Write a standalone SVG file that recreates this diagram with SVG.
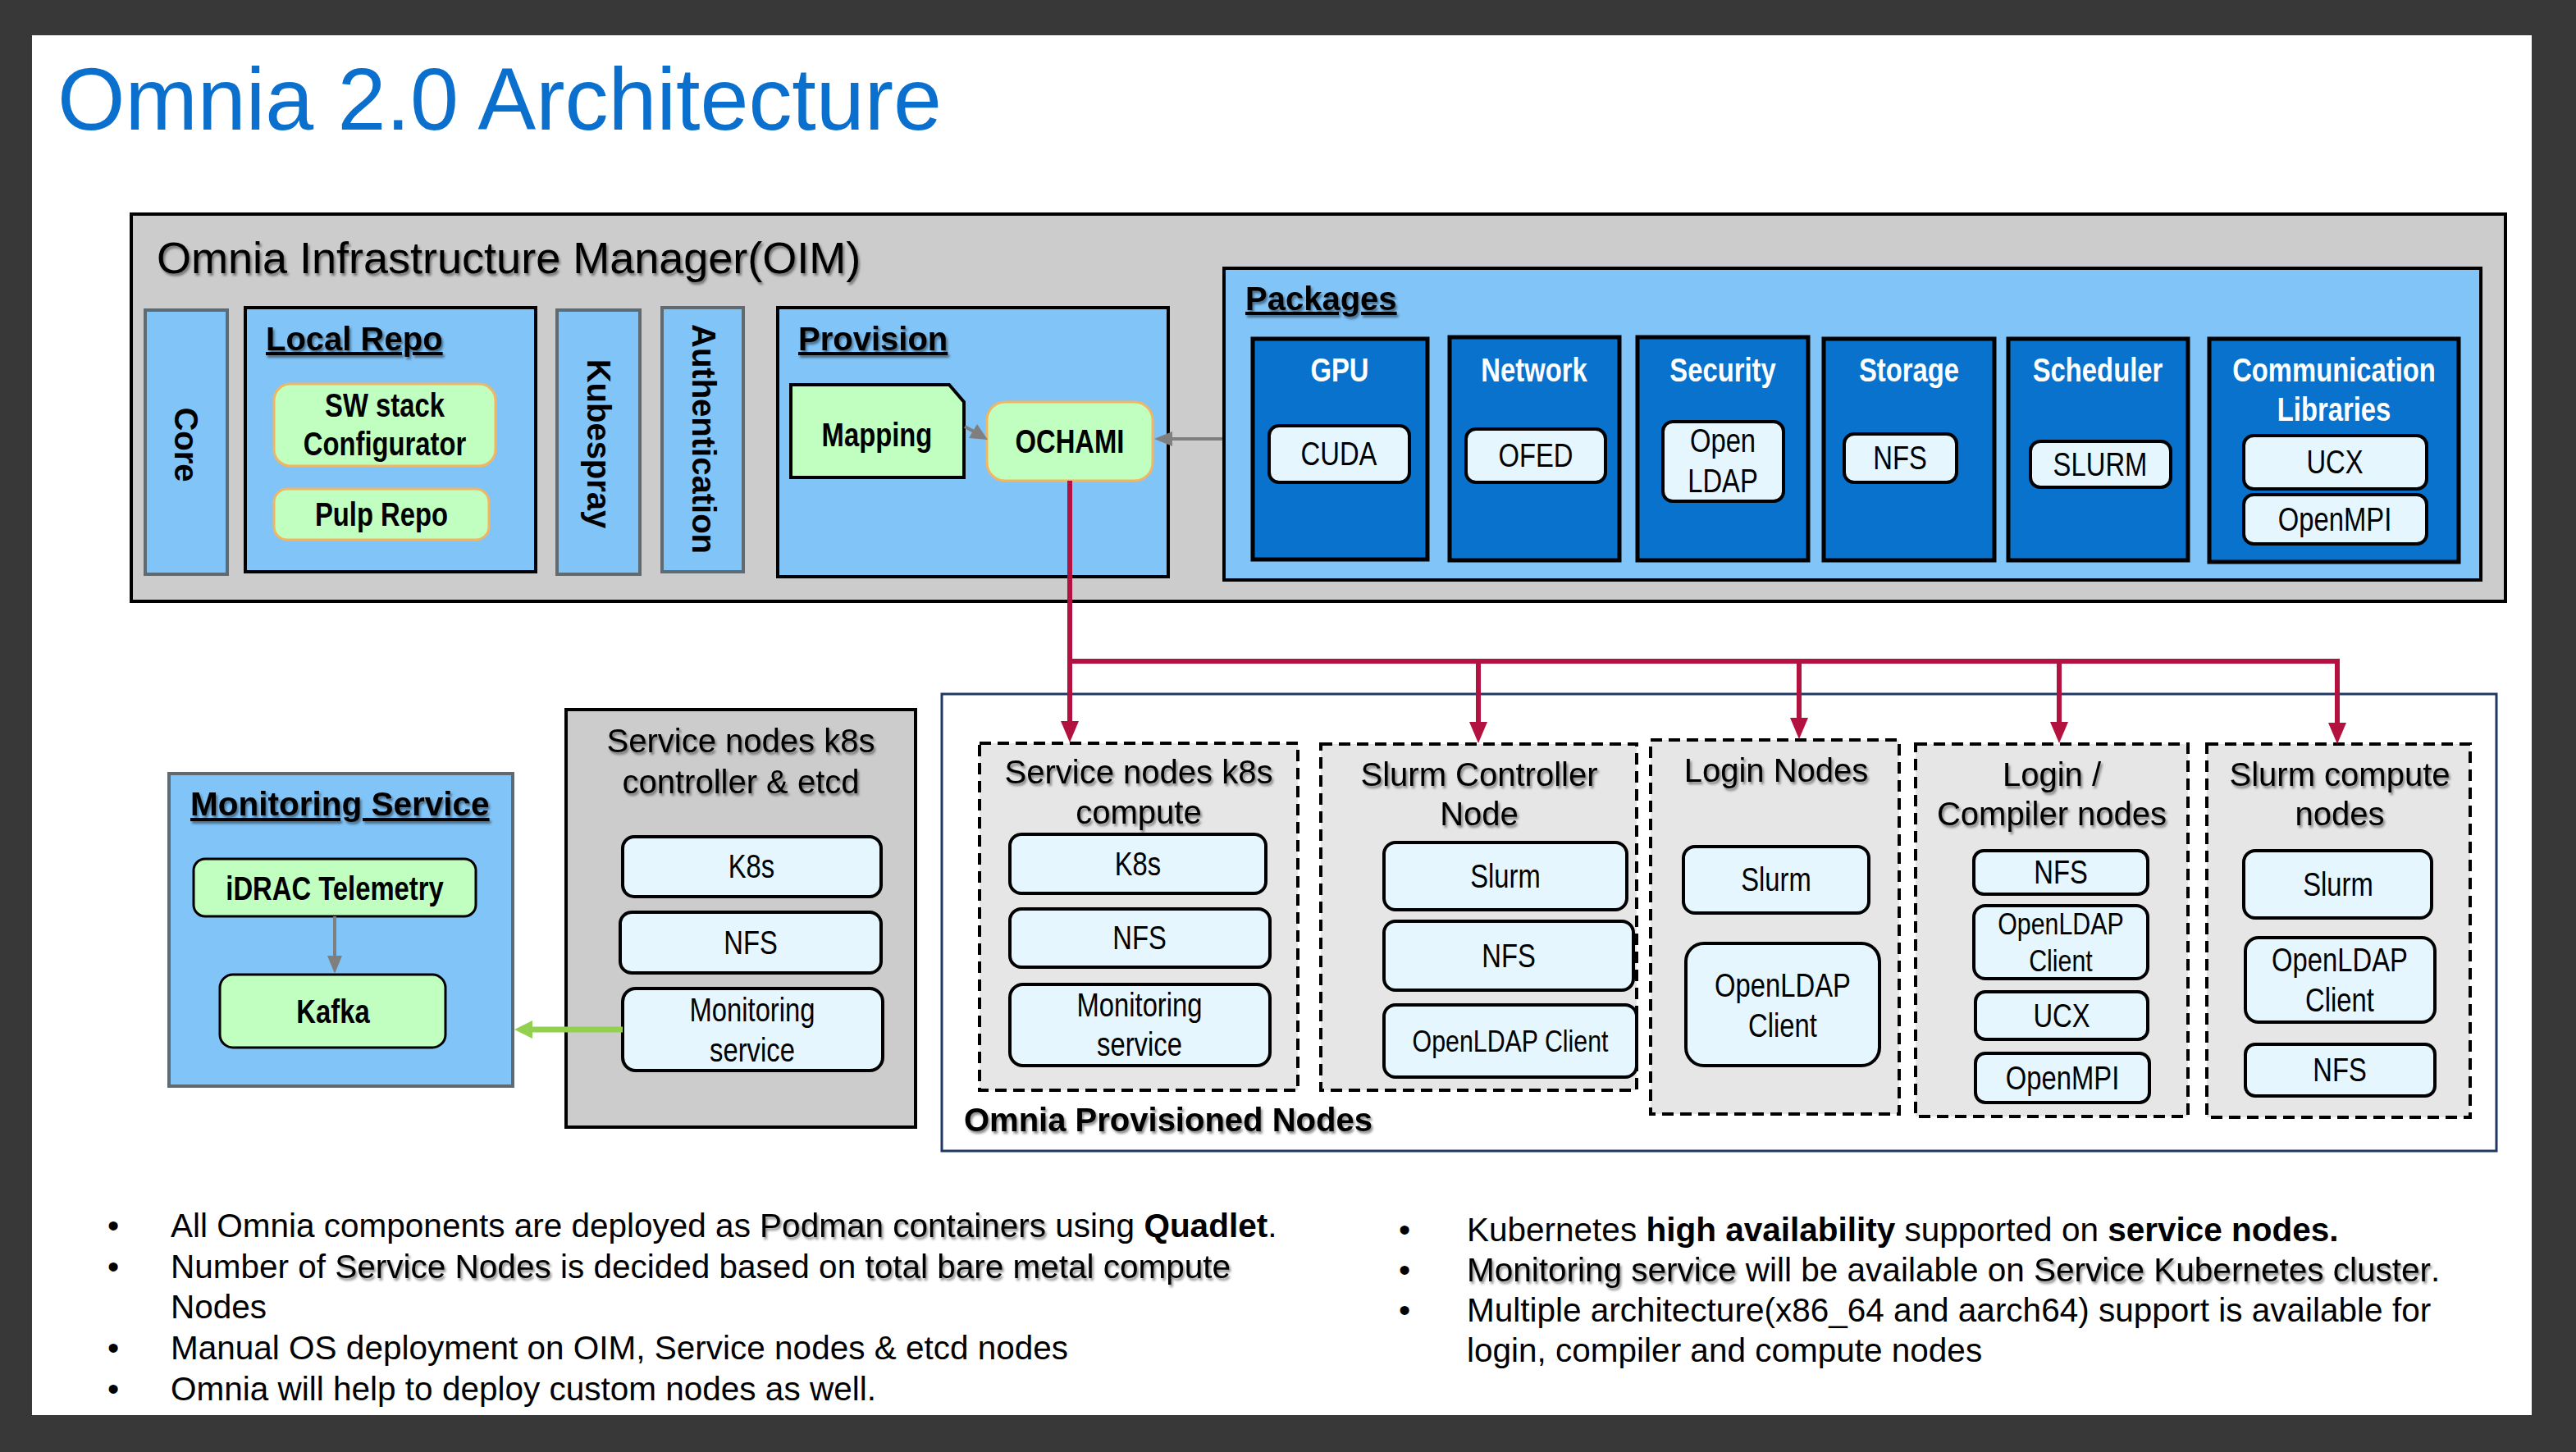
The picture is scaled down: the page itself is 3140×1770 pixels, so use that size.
<svg xmlns="http://www.w3.org/2000/svg" width="3140" height="1770" viewBox="0 0 3140 1770">
<defs>
<style>
text{font-family:"Liberation Sans",Arial,Helvetica,sans-serif;fill:#000}
.title{font-size:108px;fill:#0B70CD}
.oim{font-size:54px}
.sec{font-size:40px;font-weight:bold;text-decoration:underline}
.vt{font-size:40px;font-weight:bold;text-anchor:middle}
.nt{font-size:40px;text-anchor:middle}
.l{font-size:40px;text-anchor:middle}
.l37{font-size:37px;text-anchor:middle}
.lb{font-size:40px;font-weight:bold;text-anchor:middle}
.pt{font-size:40px;font-weight:bold;text-anchor:middle;fill:#fff}
.bul{font-size:40.5px}
.dot{font-size:40.5px;text-anchor:middle}
.blue{fill:#81C4F8}
.gs{stroke:#5F6B73;stroke-width:4}
.bk{stroke:#000;stroke-width:4}
.grn{fill:#C0FFBF;stroke:#F2B661;stroke-width:3}
.grnb{fill:#C0FFBF;stroke:#000;stroke-width:4}
.wb{fill:#E5F6FF;stroke:#000;stroke-width:4}
.col{fill:#0872CC;stroke:#000;stroke-width:5}
.dash{fill:#E6E6E6;stroke:#000;stroke-width:4;stroke-dasharray:14 8}
.red{fill:none;stroke:#B3113F;stroke-width:6}
.gray{fill:none;stroke:#7F7F7F;stroke-width:4}
</style>
<filter id="sh" x="-5%" y="-30%" width="112%" height="170%">
<feDropShadow dx="2" dy="3" stdDeviation="1.6" flood-color="#000" flood-opacity="0.45"/>
</filter>
<marker id="mr" markerUnits="userSpaceOnUse" markerWidth="26" markerHeight="24" viewBox="0 0 26 24" refX="1" refY="12" orient="auto">
<path d="M0,1 L26,12 L0,23 z" fill="#B3113F"/>
</marker>
<marker id="mg" markerUnits="userSpaceOnUse" markerWidth="22" markerHeight="24" viewBox="0 0 22 24" refX="1" refY="12" orient="auto">
<path d="M0,1 L22,12 L0,23 z" fill="#92D050"/>
</marker>
<marker id="mk" markerUnits="userSpaceOnUse" markerWidth="22" markerHeight="20" viewBox="0 0 22 20" refX="1" refY="10" orient="auto">
<path d="M0,1 L22,10 L0,19 z" fill="#7F7F7F"/>
</marker>
</defs>

<rect x="0" y="0" width="3140" height="1770" fill="#383838"/>
<rect x="39" y="43" width="3047" height="1682" fill="#FFFFFF"/>

<g id="title">
<text class="title" x="70" y="158" textLength="1078" lengthAdjust="spacingAndGlyphs">Omnia 2.0 Architecture</text>
</g>

<g id="oim">
<rect x="160" y="261" width="2894" height="472" fill="#CCCCCC" class="bk"/>
<text class="oim" x="191" y="333" filter="url(#sh)">Omnia Infrastructure Manager(OIM)</text>

<g id="core">
<rect x="177" y="378" width="100" height="322" class="blue gs"/>
<text class="vt" transform="translate(213,542) rotate(90)">Core</text>
</g>

<g id="local-repo">
<rect x="299" y="375" width="354" height="322" class="blue bk"/>
<text class="sec" x="324" y="427" filter="url(#sh)">Local Repo</text>
<g id="sw-stack">
<rect x="334" y="468" width="270" height="100" rx="20" class="grn"/>
<text class="lb" transform="translate(469,508) scale(.82,1)">SW stack</text>
<text class="lb" transform="translate(469,555) scale(.82,1)">Configurator</text>
</g>
<g id="pulp-repo">
<rect x="334" y="596" width="262" height="62" rx="16" class="grn"/>
<text class="lb" transform="translate(465,641) scale(.82,1)">Pulp Repo</text>
</g>
</g>

<g id="kubespray">
<rect x="679" y="378" width="101" height="322" class="blue gs"/>
<text class="vt" transform="translate(716,541) rotate(90)">Kubespray</text>
</g>

<g id="authentication">
<rect x="807" y="375" width="99" height="322" class="blue gs"/>
<text class="vt" transform="translate(844,535) rotate(90)">Authentication</text>
</g>

<g id="provision">
<rect x="948" y="375" width="476" height="328" class="blue bk"/>
<text class="sec" x="973" y="427" filter="url(#sh)">Provision</text>
<g id="mapping">
<path d="M964,469 H1157 L1175,490 V582 H964 Z" class="grnb"/>
<text class="lb" transform="translate(1069,544) scale(.82,1)">Mapping</text>
</g>
<g id="ochami">
<rect x="1203" y="490" width="202" height="96" rx="22" class="grn"/>
<text class="lb" transform="translate(1304,552) scale(.82,1)">OCHAMI</text>
</g>
</g>

<g id="packages">
<rect x="1492" y="327" width="1532" height="380" class="blue bk"/>
<text class="sec" x="1518" y="378" filter="url(#sh)">Packages</text>
<g id="pkg-gpu">
<rect x="1527" y="413" width="213" height="269" class="col"/>
<text class="pt" transform="translate(1633,465) scale(.82,1)">GPU</text>
<rect x="1547" y="519" width="171" height="69" rx="12" class="wb"/>
<text class="l" transform="translate(1632,567) scale(.82,1)">CUDA</text>
</g>
<g id="pkg-network">
<rect x="1767" y="411" width="207" height="272" class="col"/>
<text class="pt" transform="translate(1870,465) scale(.82,1)">Network</text>
<rect x="1787" y="523" width="170" height="65" rx="12" class="wb"/>
<text class="l" transform="translate(1872,569) scale(.82,1)">OFED</text>
</g>
<g id="pkg-security">
<rect x="1996" y="411" width="208" height="272" class="col"/>
<text class="pt" transform="translate(2100,465) scale(.82,1)">Security</text>
<rect x="2027" y="514" width="147" height="97" rx="12" class="wb"/>
<text class="l" transform="translate(2100,551) scale(.82,1)">Open</text>
<text class="l" transform="translate(2100,600) scale(.82,1)">LDAP</text>
</g>
<g id="pkg-storage">
<rect x="2223" y="413" width="208" height="270" class="col"/>
<text class="pt" transform="translate(2327,465) scale(.82,1)">Storage</text>
<rect x="2248" y="529" width="137" height="59" rx="12" class="wb"/>
<text class="l" transform="translate(2316,572) scale(.82,1)">NFS</text>
</g>
<g id="pkg-scheduler">
<rect x="2448" y="413" width="219" height="270" class="col"/>
<text class="pt" transform="translate(2557,465) scale(.82,1)">Scheduler</text>
<rect x="2475" y="538" width="171" height="56" rx="12" class="wb"/>
<text class="l" transform="translate(2560,580) scale(.82,1)">SLURM</text>
</g>
<g id="pkg-communication">
<rect x="2693" y="413" width="304" height="272" class="col"/>
<text class="pt" transform="translate(2845,465) scale(.82,1)">Communication</text>
<text class="pt" transform="translate(2845,513) scale(.82,1)">Libraries</text>
<rect x="2735" y="531" width="223" height="65" rx="12" class="wb"/>
<text class="l" transform="translate(2846,577) scale(.82,1)">UCX</text>
<rect x="2735" y="603" width="223" height="60" rx="12" class="wb"/>
<text class="l" transform="translate(2846,647) scale(.82,1)">OpenMPI</text>
</g>
</g>
</g>

<g id="monitoring-service">
<rect x="206" y="943" width="419" height="381" class="blue gs"/>
<text class="sec" x="232" y="994" style="font-size:40.5px" filter="url(#sh)">Monitoring Service</text>
<g id="idrac">
<rect x="236" y="1047" width="344" height="70" rx="14" class="grnb" style="stroke-width:3"/>
<text class="lb" transform="translate(408,1097) scale(.82,1)">iDRAC Telemetry</text>
</g>
<g id="kafka">
<rect x="268" y="1188" width="275" height="89" rx="16" class="grnb" style="stroke-width:3"/>
<text class="lb" transform="translate(406,1247) scale(.82,1)">Kafka</text>
</g>
</g>

<g id="service-controller">
<rect x="690" y="865" width="426" height="509" fill="#CCCCCC" class="bk"/>
<text class="nt" x="903" y="917" filter="url(#sh)">Service nodes k8s</text>
<text class="nt" x="903" y="967" filter="url(#sh)">controller &amp; etcd</text>
<rect x="759" y="1020" width="315" height="73" rx="14" class="wb"/>
<text class="l" transform="translate(916,1070) scale(.82,1)">K8s</text>
<rect x="756" y="1112" width="318" height="74" rx="14" class="wb"/>
<text class="l" transform="translate(915,1163) scale(.82,1)">NFS</text>
<rect x="759" y="1205" width="317" height="100" rx="16" class="wb"/>
<text class="l" transform="translate(917,1245) scale(.82,1)">Monitoring</text>
<text class="l" transform="translate(917,1294) scale(.82,1)">service</text>
</g>

<g id="provisioned-nodes">
<rect x="1148" y="846" width="1895" height="557" fill="none" stroke="#203864" stroke-width="3"/>
<text x="1175" y="1379" style="font-size:40px;font-weight:bold" filter="url(#sh)">Omnia Provisioned Nodes</text>

<g id="pn-service-compute">
<rect x="1194" y="906" width="388" height="423" class="dash"/>
<text class="nt" x="1388" y="955" filter="url(#sh)">Service nodes k8s</text>
<text class="nt" x="1388" y="1004" filter="url(#sh)">compute</text>
<rect x="1231" y="1017" width="312" height="72" rx="14" class="wb"/>
<text class="l" transform="translate(1387,1067) scale(.82,1)">K8s</text>
<rect x="1231" y="1108" width="317" height="71" rx="14" class="wb"/>
<text class="l" transform="translate(1389,1157) scale(.82,1)">NFS</text>
<rect x="1231" y="1200" width="317" height="99" rx="16" class="wb"/>
<text class="l" transform="translate(1389,1239) scale(.82,1)">Monitoring</text>
<text class="l" transform="translate(1389,1287) scale(.82,1)">service</text>
</g>

<g id="pn-slurm-controller">
<rect x="1610" y="907" width="385" height="422" class="dash"/>
<text class="nt" x="1803" y="958" filter="url(#sh)">Slurm Controller</text>
<text class="nt" x="1803" y="1006" filter="url(#sh)">Node</text>
<rect x="1687" y="1027" width="296" height="82" rx="14" class="wb"/>
<text class="l" transform="translate(1835,1082) scale(.82,1)">Slurm</text>
<rect x="1687" y="1123" width="304" height="84" rx="14" class="wb"/>
<text class="l" transform="translate(1839,1179) scale(.82,1)">NFS</text>
<rect x="1687" y="1225" width="308" height="88" rx="14" class="wb"/>
<text class="l37" transform="translate(1841,1282) scale(.82,1)">OpenLDAP Client</text>
</g>

<g id="pn-login">
<rect x="2012" y="902" width="303" height="456" class="dash"/>
<text class="nt" x="2165" y="953" filter="url(#sh)">Login Nodes</text>
<rect x="2052" y="1032" width="226" height="81" rx="14" class="wb"/>
<text class="l" transform="translate(2165,1086) scale(.82,1)">Slurm</text>
<rect x="2055" y="1150" width="236" height="149" rx="22" class="wb"/>
<text class="l" transform="translate(2173,1215) scale(.82,1)">OpenLDAP</text>
<text class="l" transform="translate(2173,1264) scale(.82,1)">Client</text>
</g>

<g id="pn-login-compiler">
<rect x="2335" y="907" width="332" height="454" class="dash"/>
<text class="nt" x="2501" y="958" filter="url(#sh)">Login /</text>
<text class="nt" x="2501" y="1006" filter="url(#sh)">Compiler nodes</text>
<rect x="2406" y="1037" width="212" height="53" rx="12" class="wb"/>
<text class="l" transform="translate(2512,1077) scale(.82,1)">NFS</text>
<rect x="2406" y="1104" width="212" height="89" rx="14" class="wb"/>
<text class="l37" transform="translate(2512,1139) scale(.82,1)">OpenLDAP</text>
<text class="l37" transform="translate(2512,1184) scale(.82,1)">Client</text>
<rect x="2408" y="1209" width="210" height="58" rx="12" class="wb"/>
<text class="l" transform="translate(2513,1252) scale(.82,1)">UCX</text>
<rect x="2408" y="1284" width="212" height="60" rx="12" class="wb"/>
<text class="l" transform="translate(2514,1328) scale(.82,1)">OpenMPI</text>
</g>

<g id="pn-slurm-compute">
<rect x="2690" y="907" width="321" height="455" class="dash"/>
<text class="nt" x="2852" y="958" filter="url(#sh)">Slurm compute</text>
<text class="nt" x="2852" y="1006" filter="url(#sh)">nodes</text>
<rect x="2735" y="1037" width="229" height="82" rx="14" class="wb"/>
<text class="l" transform="translate(2850,1092) scale(.82,1)">Slurm</text>
<rect x="2737" y="1143" width="231" height="103" rx="16" class="wb"/>
<text class="l" transform="translate(2852,1184) scale(.82,1)">OpenLDAP</text>
<text class="l" transform="translate(2852,1233) scale(.82,1)">Client</text>
<rect x="2737" y="1273" width="231" height="63" rx="12" class="wb"/>
<text class="l" transform="translate(2852,1318) scale(.82,1)">NFS</text>
</g>
</g>

<g id="connectors">
<path class="red" d="M1304,586 V880" marker-end="url(#mr)"/>
<path class="red" d="M1301,806 H2852"/>
<path class="red" d="M1802,806 V881" marker-end="url(#mr)"/>
<path class="red" d="M2193,806 V876" marker-end="url(#mr)"/>
<path class="red" d="M2510,806 V881" marker-end="url(#mr)"/>
<path class="red" d="M2849,803 V882" marker-end="url(#mr)"/>
<path class="gray" d="M1490,535 H1428" marker-end="url(#mk)"/>
<path class="gray" d="M1176,520 L1187,526" stroke-width="4"/>
<polygon points="1204,536 1181,534 1191,517" fill="#7F7F7F"/>
<path class="gray" d="M408,1117 V1166" stroke-width="3" marker-end="url(#mk)"/>
<path d="M759,1255 H648" fill="none" stroke="#92D050" stroke-width="7" marker-end="url(#mg)"/>
</g>

<g id="notes">
<text class="dot" x="138" y="1508">•</text>
<text class="bul" x="208" y="1508">All Omnia components are deployed as</text>
<text class="bul" x="926.1" y="1508" filter="url(#sh)">Podman containers</text>
<text class="bul" x="1286.3" y="1508">using <tspan font-weight="bold">Quadlet</tspan>.</text>

<text class="dot" x="138" y="1558">•</text>
<text class="bul" x="208" y="1558">Number of</text>
<text class="bul" x="408.3" y="1558" filter="url(#sh)">Service Nodes</text>
<text class="bul" x="682.9" y="1558">is decided based on</text>
<text class="bul" x="1054.4" y="1558" filter="url(#sh)">total bare metal compute</text>
<text class="bul" x="208" y="1607">Nodes</text>

<text class="dot" x="138" y="1657">•</text>
<text class="bul" x="208" y="1657">Manual OS deployment on OIM, Service nodes &amp; etcd nodes</text>

<text class="dot" x="138" y="1707">•</text>
<text class="bul" x="208" y="1707">Omnia will help to deploy custom nodes as well.</text>

<text class="dot" x="1712" y="1513">•</text>
<text class="bul" x="1788" y="1513">Kubernetes <tspan font-weight="bold">high availability</tspan> supported on <tspan font-weight="bold">service nodes.</tspan></text>

<text class="dot" x="1712" y="1562">•</text>
<text class="bul" x="1788" y="1562" filter="url(#sh)">Monitoring service</text>
<text class="bul" x="2127.8" y="1562">will be available on</text>
<text class="bul" x="2479" y="1562" filter="url(#sh)">Service Kubernetes cluster</text>
<text class="bul" x="2962.9" y="1562">.</text>

<text class="dot" x="1712" y="1611">•</text>
<text class="bul" x="1788" y="1611">Multiple architecture(x86_64 and aarch64) support is available for</text>
<text class="bul" x="1788" y="1660">login, compiler and compute nodes</text>
</g>
</svg>
